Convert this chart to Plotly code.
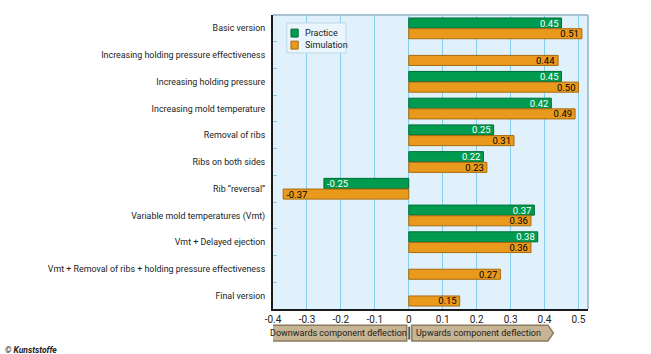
import plotly.graph_objects as go

categories = [
    "Basic version",
    "Increasing holding pressure effectiveness",
    "Increasing holding pressure",
    "Increasing mold temperature",
    "Removal of ribs",
    "Ribs on both sides",
    "Rib “reversal”",
    "Variable mold temperatures (Vmt)",
    "Vmt + Delayed ejection",
    "Vmt + Removal of ribs + holding pressure effectiveness",
    "Final version",
]
practice = [0.45, None, 0.45, 0.42, 0.25, 0.22, -0.25, 0.37, 0.38, None, None]
simulation = [0.51, 0.44, 0.50, 0.49, 0.31, 0.23, -0.37, 0.36, 0.36, 0.27, 0.15]
x_ticks = [-0.4, -0.3, -0.2, -0.1, 0, 0.1, 0.2, 0.3, 0.4, 0.5]
x_tick_labels = ["-0.4", "-0.3", "-0.2", "-0.1", "0", "0.1", "0.2", "0.3", "0.4", "0.5"]
series_names = ["Practice", "Simulation"]

FONT = "Roboto, Lato, sans-serif"
GREEN = "#009b4f"
ORANGE = "#e99a1d"

fig = go.Figure()
fig.add_trace(go.Bar(
    y=categories, x=practice, name=series_names[0], orientation="h",
    marker=dict(color=GREEN, line=dict(color="#006e36", width=1)),
    texttemplate="%{x:.2f}", textposition="inside", insidetextanchor="end",
    constraintext="none",
    textfont=dict(color="white", size=9.5, family=FONT),
    cliponaxis=False, showlegend=False,
))
fig.add_trace(go.Bar(
    y=categories, x=simulation, name=series_names[1], orientation="h",
    marker=dict(color=ORANGE, line=dict(color="#a86a10", width=1)),
    texttemplate="%{x:.2f}", textposition="inside", insidetextanchor="end",
    constraintext="none",
    textfont=dict(color="black", size=9.5, family=FONT),
    cliponaxis=False, showlegend=False,
))

shapes = []
# top and right frame
shapes.append(dict(type="line", xref="paper", yref="paper", x0=0, x1=1, y0=1, y1=1,
                   line=dict(color="#a9c3d6", width=2)))
shapes.append(dict(type="line", xref="paper", yref="paper", x0=1, x1=1, y0=0, y1=1,
                   line=dict(color="#a9c3d6", width=2)))
# custom legend box
shapes.append(dict(type="rect", xref="paper", yref="paper", x0=0.044, x1=0.232, y0=0.871, y1=0.973,
                   fillcolor="#eaf5fc", line=dict(color="#bcd6e8", width=1)))
shapes.append(dict(type="rect", xref="paper", yref="paper", x0=0.057, x1=0.080, y0=0.925, y1=0.952,
                   fillcolor=GREEN, line=dict(color="#006e36", width=1)))
shapes.append(dict(type="rect", xref="paper", yref="paper", x0=0.057, x1=0.080, y0=0.884, y1=0.911,
                   fillcolor=ORANGE, line=dict(color="#a86a10", width=1)))
# bottom direction labels (arrow boxes)
yt, yb = -0.055, -0.109
ym = (yt + yb) / 2
shapes.append(dict(type="path", xref="x", yref="paper",
                   path=f"M -0.41 {yt} L -0.006 {yt} L -0.006 {yb} L -0.41 {yb} L -0.426 {ym} Z",
                   fillcolor="#c6b594", line=dict(color="#8c7b5e", width=1.5)))
shapes.append(dict(type="path", xref="x", yref="paper",
                   path=f"M 0.009 {yt} L 0.41 {yt} L 0.426 {ym} L 0.41 {yb} L 0.009 {yb} Z",
                   fillcolor="#c6b594", line=dict(color="#8c7b5e", width=1.5)))
shapes.append(dict(type="line", xref="x", yref="paper", x0=0.0015, x1=0.0015, y0=yt - 0.005, y1=yb + 0.005,
                   line=dict(color="#555555", width=2)))

annotations = [
    dict(text=series_names[0], xref="paper", yref="paper", x=0.095, y=0.9385,
         xanchor="left", yanchor="middle", showarrow=False,
         font=dict(size=9, family=FONT, color="#222222")),
    dict(text=series_names[1], xref="paper", yref="paper", x=0.095, y=0.8975,
         xanchor="left", yanchor="middle", showarrow=False,
         font=dict(size=9, family=FONT, color="#222222")),
    dict(text="Downwards component deflection", xref="x", yref="paper", x=-0.207, y=ym,
         xanchor="center", yanchor="middle", showarrow=False,
         font=dict(size=9, family=FONT, color="#222222")),
    dict(text="Upwards component deflection", xref="x", yref="paper", x=0.205, y=ym,
         xanchor="center", yanchor="middle", showarrow=False,
         font=dict(size=9, family=FONT, color="#222222")),
    dict(text="<b><i>© Kunststoffe</i></b>", xref="paper", yref="paper", x=-0.857, y=-0.14,
         xanchor="left", yanchor="middle", showarrow=False,
         font=dict(size=8.5, family=FONT, color="#222222")),
]

fig.update_layout(
    width=651, height=354,
    margin=dict(l=273, r=63, t=15, b=45),
    paper_bgcolor="white",
    plot_bgcolor="#e0f1fb",
    barmode="group", bargap=0.2, bargroupgap=0.06,
    font=dict(family=FONT, size=9, color="#222222"),
    showlegend=False,
    xaxis=dict(range=[-0.4, 0.528], tickvals=x_ticks, ticktext=x_tick_labels,
               showgrid=True, gridcolor="#86cdee", gridwidth=1, zeroline=True,
               zerolinecolor="#86cdee", zerolinewidth=1,
               showline=True, linecolor="#1a1a1a", linewidth=2,
               ticks="", tickfont=dict(size=10, family=FONT)),
    yaxis=dict(autorange="reversed", showgrid=False, showline=True, linecolor="#1a1a1a",
               linewidth=2, ticks="inside", tickson="boundaries", ticklen=4,
               tickcolor="#86cdee", tickfont=dict(size=8.9, family=FONT), ticklabelstandoff=4),
    shapes=shapes,
    annotations=annotations,
)

fig.write_html("out.html")
